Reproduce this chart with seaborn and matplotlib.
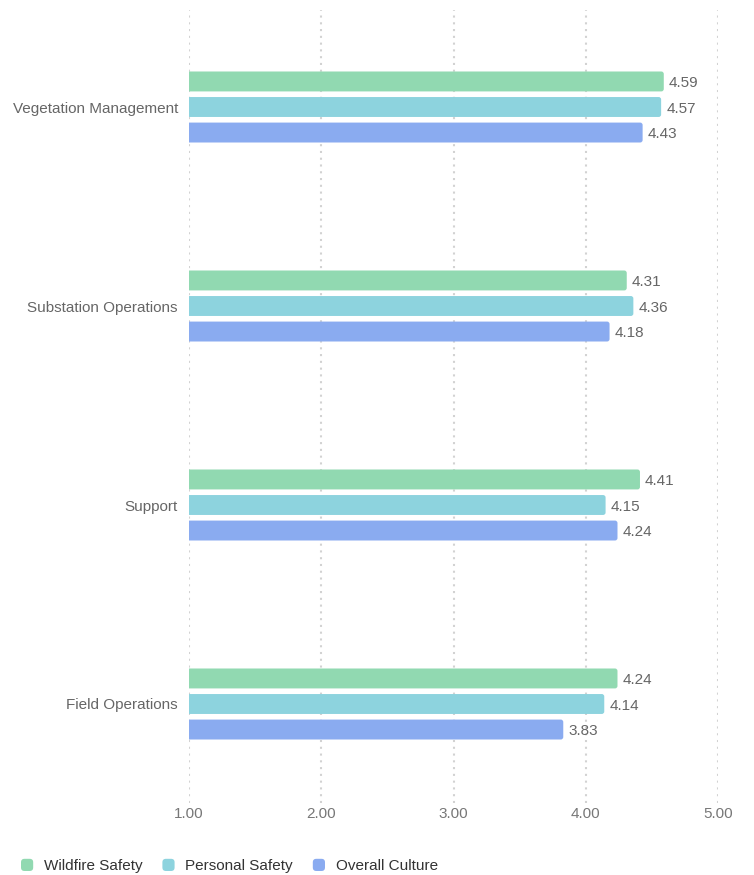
import matplotlib
matplotlib.use("Agg")
import matplotlib.pyplot as plt
import seaborn as sns
import pandas as pd
from matplotlib.patches import FancyBboxPatch, Patch
from matplotlib.legend_handler import HandlerPatch

categories = ["Vegetation Management", "Substation Operations", "Support", "Field Operations"]
series = ["Wildfire Safety", "Personal Safety", "Overall Culture"]
wildfire = [4.59, 4.31, 4.41, 4.24]
personal = [4.57, 4.36, 4.15, 4.14]
overall = [4.43, 4.18, 4.24, 3.83]
colors = ["#91d9b1", "#8dd3de", "#8aabf0"]
xticks = [1.0, 2.0, 3.0, 4.0, 5.0]

rows = []
for s, vals in zip(series, [wildfire, personal, overall]):
    for c, v in zip(categories, vals):
        rows.append({"category": c, "series": s, "value": v})
df = pd.DataFrame(rows)

sns.set_theme(style="white")
plt.rcParams['font.family'] = ['Liberation Sans', 'DejaVu Sans']

fig = plt.figure(figsize=(7.54, 8.75), dpi=100)
W, H = 754, 875
top_px, bot_px = 10, 803
ax = fig.add_axes([189 / W, 1 - bot_px / H, (718 - 189) / W, (bot_px - top_px) / H])

sns.barplot(data=df, y="category", x="value", hue="series", order=categories,
            hue_order=series, palette=colors, orient="h", width=0.385, gap=0.22,
            ax=ax, legend=False, saturation=1)

ax.set_xlim(1, 5)
ax.set_ylim(3 + (bot_px - 704) / 199.0, -(107 - top_px) / 199.0)

# rounded bars
xpp = 4 / 529.0
ypp = 1 / 199.0
rs = 2.5 * xpp
for p in list(ax.patches):
    x0, y0 = p.get_x(), p.get_y()
    w, h = p.get_width(), p.get_height()
    fc = p.get_facecolor()
    p.remove()
    fb = FancyBboxPatch((x0, y0), w, h,
                        boxstyle=f"round,pad=0,rounding_size={rs}",
                        mutation_aspect=ypp / xpp, facecolor=fc, edgecolor="none",
                        zorder=3)
    ax.add_patch(fb)
    ax.text(x0 + w + 5 * xpp, y0 + h / 2 + 1.5 * ypp, f"{w:.2f}", va="center", ha="left",
            fontsize=11, color="#666666", zorder=4)

ax.set_xticks(xticks)
ax.set_xticklabels([f"{t:.2f}" for t in xticks])
ax.tick_params(axis="x", colors="#777777", labelsize=11, length=0, pad=3)
ax.tick_params(axis="y", colors="#666666", labelsize=11, length=0, pad=8)
for lbl in ax.get_yticklabels():
    lbl.set_va("center_baseline")
ax.set_xlabel("")
ax.set_ylabel("")
for s in ax.spines.values():
    s.set_visible(False)
ax.grid(False)
for t in xticks:
    ax.axvline(t, color="#d2d2d2", linestyle=(0, (1, 2.25)),
               linewidth=1.5, zorder=0.5)


class RoundHandler(HandlerPatch):
    def create_artists(self, legend, orig_handle, xdescent, ydescent, width, height, fontsize, trans):
        s = min(width, height)
        p = FancyBboxPatch((-xdescent, -ydescent + (height - s) / 2), s, s,
                           boxstyle="round,pad=0,rounding_size=2.5",
                           facecolor=orig_handle.get_facecolor(), edgecolor="none",
                           transform=trans)
        return [p]


handles = [Patch(facecolor=c, edgecolor="none", label=s) for c, s in zip(colors, series)]
leg = fig.legend(handles=handles, loc="center left", bbox_to_anchor=(21 / W, 1 - 866 / H),
                 ncol=3, frameon=False, fontsize=11, handlelength=0.85, handleheight=0.85,
                 handletextpad=0.65, columnspacing=1.3, borderaxespad=0, borderpad=0,
                 handler_map={Patch: RoundHandler()})
for t in leg.get_texts():
    t.set_color("#333333")

fig.savefig("out.png", dpi=100)
